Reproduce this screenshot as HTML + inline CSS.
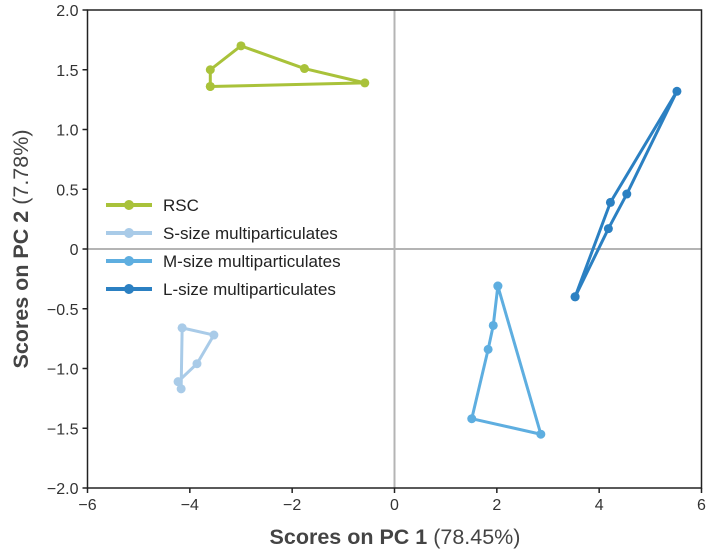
<!DOCTYPE html>
<html><head><meta charset="utf-8"><style>
body{margin:0;background:#fff;}
svg{display:block;font-family:"Liberation Sans",sans-serif;}
</style></head><body>
<svg id="chart" width="711" height="552"></svg>
<script>
const seriesNames=["RSC","S-size multiparticulates","M-size multiparticulates","L-size multiparticulates"];
const seriesColors=["#a9c23a","#a9cbe8","#5eaee0","#2b80c2"];
const rscX=[-3.6,-3.6,-3.0,-1.76,-0.58,-3.6];
const rscY=[1.36,1.50,1.70,1.51,1.39,1.36];
const sX=[-4.15,-3.53,-3.86,-4.23,-4.17,-4.15];
const sY=[-0.66,-0.72,-0.96,-1.11,-1.17,-0.66];
const mX=[2.02,1.93,1.83,1.51,2.86,2.02];
const mY=[-0.31,-0.64,-0.84,-1.42,-1.55,-0.31];
const lX=[3.53,4.22,5.52,4.54,4.18,3.53];
const lY=[-0.40,0.39,1.32,0.46,0.17,-0.40];
const xTicks=[-6,-4,-2,0,2,4,6];
const yTicks=[2.0,1.5,1.0,0.5,0,-0.5,-1.0,-1.5,-2.0];
const yTickLabels=["2.0","1.5","1.0","0.5","0","-0.5","-1.0","-1.5","-2.0"];

const L=87.5,R=701.5,T=10,B=488;
const sx=v=>L+(v+6)/12*(R-L);
const sy=v=>T+(2-v)/4*(B-T);
const NS="http://www.w3.org/2000/svg";
const svg=document.getElementById('chart');
function el(tag,attrs,parent){const e=document.createElementNS(NS,tag);for(const k in attrs)e.setAttribute(k,attrs[k]);(parent||svg).appendChild(e);return e;}

let z=el('line',{x1:sx(0),x2:sx(0),y1:T,y2:B,stroke:'#b4b4b4','stroke-width':2});


z=el('line',{x1:L,x2:R,y1:sy(0),y2:sy(0),stroke:'#b4b4b4','stroke-width':2});


let f=el('rect',{x:L,y:T,width:R-L,height:B-T,fill:'none',stroke:'#222','stroke-width':1.5});



xTicks.forEach(v=>{
  const t=el('line',{x1:sx(v),x2:sx(v),y1:B,y2:B+5,stroke:'#222','stroke-width':1.5});
  
  
  const tx=el('text',{x:sx(v),y:B+22,'text-anchor':'middle','font-size':16,fill:'#333'});
  tx.textContent=v<0?'−'+(-v):String(v);
  
  
});
yTicks.forEach((v,i)=>{
  const t=el('line',{x1:L-5,x2:L,y1:sy(v),y2:sy(v),stroke:'#222','stroke-width':1.5});
  
  
  const tx=el('text',{x:L-9,y:sy(v)+6,'text-anchor':'end','font-size':16,fill:'#333'});
  tx.textContent=yTickLabels[i].replace('-','−');
  
  
});

const allX=[rscX,sX,mX,lX],allY=[rscY,sY,mY,lY];
allX.forEach((xs,si)=>{
  const g=el('g',{});
  
  
  const pts=xs.map((x,i)=>sx(x)+','+sy(allY[si][i])).join(' ');
  el('polyline',{points:pts,fill:'none',stroke:seriesColors[si],'stroke-width':3,'stroke-linejoin':'round'},g);
  xs.forEach((x,i)=>{
    const c=el('circle',{cx:sx(x),cy:sy(allY[si][i]),r:4.5,fill:seriesColors[si]},g);
    
    
  });
});

seriesNames.forEach((n,i)=>{
  const y=205+i*28;
  const g=el('g',{});
  
  
  el('line',{x1:106,x2:152,y1:y,y2:y,stroke:seriesColors[i],'stroke-width':4},g);
  el('circle',{cx:129,cy:y,r:5,fill:seriesColors[i]},g);
  const t=el('text',{x:163,y:y+6,'font-size':17,fill:'#222'},g);
  t.textContent=n;
});

const xt=el('text',{x:395,y:544,'text-anchor':'middle','font-size':21.5,fill:'#444'});
xt.innerHTML='<tspan font-weight="bold">Scores on PC 1</tspan> (78.45%)';


const yt=el('text',{x:0,y:0,'text-anchor':'middle','font-size':21.5,fill:'#444',transform:'translate(28,249) rotate(-90)'});
yt.innerHTML='<tspan font-weight="bold">Scores on PC 2</tspan> (7.78%)';


</script>
</body></html>
